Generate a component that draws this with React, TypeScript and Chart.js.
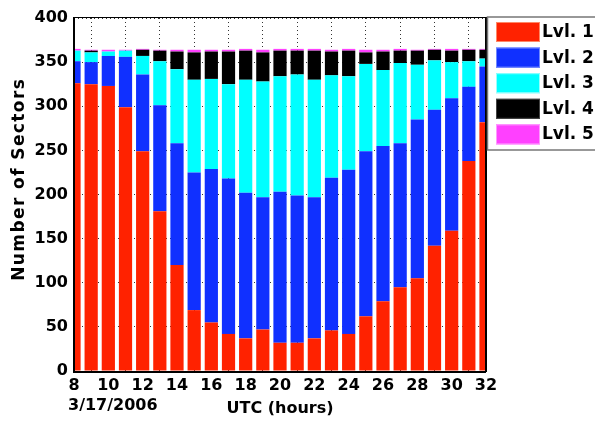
import React, { useEffect, useRef } from "react";
import { Chart, registerables } from "chart.js";

Chart.register(...registerables);

const hours = [8, 9, 10, 11, 12, 13, 14, 15, 16, 17, 18, 19, 20, 21, 22, 23, 24, 25, 26, 27, 28, 29, 30, 31, 32];
const lvl1 = [326, 325, 323, 299, 249, 181, 120, 69, 55, 42, 37, 47, 32, 32, 37, 46, 42, 62, 79, 95, 105, 142, 159, 238, 282];
const lvl2 = [25, 25, 34, 57, 87, 120, 138, 156, 174, 176, 165, 150, 171, 167, 160, 173, 186, 187, 176, 163, 180, 154, 150, 84, 63];
const lvl3 = [12, 11, 5, 7, 21, 50, 84, 105, 102, 107, 128, 131, 131, 137, 133, 116, 106, 99, 86, 91, 62, 56, 41, 29, 9];
const lvl4 = [0, 2, 0, 0, 7, 12, 20, 31, 31, 37, 33, 33, 29, 27, 33, 27, 29, 13, 21, 14, 16, 12, 13, 13, 10];
const lvl5 = [2, 1, 2, 1, 1, 1, 2, 3, 2, 2, 2, 3, 2, 2, 2, 2, 2, 3, 2, 2, 1, 1, 2, 1, 1];

const seriesLabels = ["Lvl. 1", "Lvl. 2", "Lvl. 3", "Lvl. 4", "Lvl. 5"];
const seriesColors = ["#ff2200", "#1030ff", "#00ffff", "#000000", "#ff40ff"];
const seriesEdge = ["#ff8866", "#7088ff", "#99ffff", "#444444", "#ff99ff"];
const seriesValues = [lvl1, lvl2, lvl3, lvl4, lvl5];

const yTitle = "Number of Sectors";
const xTitle = "UTC (hours)";
const dateLabel = "3/17/2006";

const FONT = "'DejaVu Sans', sans-serif";

const framePlugin = {
  id: "frame",
  afterDatasetsDraw(chart: any) {
    const { ctx, chartArea: a } = chart;
    ctx.save();
    ctx.strokeStyle = "#000";
    ctx.lineWidth = 1;
    ctx.beginPath();
    ctx.moveTo(a.left, a.top - 0.5);
    ctx.lineTo(a.right + 1, a.top - 0.5);
    ctx.stroke();
    ctx.lineWidth = 2;
    ctx.beginPath();
    ctx.moveTo(a.left, a.top - 1);
    ctx.lineTo(a.left, a.bottom + 1);
    ctx.lineTo(a.right, a.bottom + 1);
    ctx.moveTo(a.right, a.top - 1);
    ctx.lineTo(a.right, a.bottom + 1);
    ctx.stroke();
    ctx.restore();
  },
  afterDraw(chart: any) {
    const { ctx, chartArea: a } = chart;
    ctx.save();
    ctx.fillStyle = "#000";
    ctx.font = `bold 16px ${FONT}`;
    ctx.textAlign = "left";
    ctx.textBaseline = "middle";
    ctx.fillText(dateLabel, 68, 406);
    // y title
    ctx.save();
    ctx.translate(20, 180);
    ctx.rotate(-Math.PI / 2);
    ctx.font = `bold 17px ${FONT}`;
    ctx.textAlign = "center";
    ctx.textBaseline = "middle";
    (ctx as any).letterSpacing = "1.4px";
    ctx.fillText(yTitle, 0.7, 0);
    ctx.restore();
    // legend
    const lx = a.right + 1.5;
    ctx.fillStyle = "#fff";
    ctx.fillRect(lx, 17, 600 - lx, 133);
    ctx.strokeStyle = "#777";
    ctx.lineWidth = 1.5;
    ctx.strokeRect(lx, 17, 620 - lx, 133);
    chart.data.datasets.forEach((ds: any, i: number) => {
      const top = 22 + i * 25.6;
      ctx.fillStyle = ds.backgroundColor;
      ctx.fillRect(496, top, 44, 20);
      ctx.strokeStyle = seriesEdge[i];
      ctx.lineWidth = 1;
      ctx.strokeRect(496.5, top + 0.5, 43, 19);
      ctx.fillStyle = "#000";
      ctx.font = `bold 17px ${FONT}`;
      ctx.textAlign = "left";
      ctx.textBaseline = "middle";
      ctx.fillText(ds.label, 542, top + 10.5);
    });
    ctx.restore();
  },
};

export default function App() {
  const ref = useRef<HTMLCanvasElement>(null);
  useEffect(() => {
    if (!ref.current) return;
    const chart = new Chart(ref.current, {
      type: "bar",
      data: {
        datasets: seriesValues.map((vals, i) => ({
          label: seriesLabels[i],
          data: hours.map((h, j) => ({ x: h, y: vals[j] })),
          backgroundColor: seriesColors[i],
          borderWidth: 0,
          barPercentage: 0.77,
          categoryPercentage: 1,
          clip: 0,
        })),
      },
      options: {
        responsive: false,
        animation: false,
        layout: { padding: { left: 0, top: 18, right: 109, bottom: 0 } },
        plugins: { legend: { display: false }, tooltip: { enabled: false } },
        scales: {
          x: {
            type: "linear",
            stacked: true,
            min: 8,
            max: 32,
            offset: false,
            afterFit: (s: any) => { s.height = 50; },
            ticks: { stepSize: 2, color: "#000", font: { family: FONT, weight: "bold", size: 16 }, padding: 5, maxRotation: 0 },
            grid: { color: "#333", drawTicks: false, lineWidth: 1 },
            border: { display: false, dash: [1, 3] },
            title: { display: true, text: xTitle, color: "#000", font: { family: FONT, weight: "bold", size: 16 }, padding: { top: 0, bottom: 2.5 } },
          },
          y: {
            stacked: true,
            min: 0,
            max: 400,
            afterFit: (s: any) => { s.width = 74; },
            ticks: { stepSize: 50, color: "#000", font: { family: FONT, weight: "bold", size: 16 }, padding: 6 },
            grid: { color: "#333", drawTicks: false, lineWidth: 1 },
            border: { display: false, dash: [1, 3] },
            title: { display: false, text: yTitle },
          },
        },
      },
      plugins: [framePlugin],
    } as any);
    return () => chart.destroy();
  }, []);
  return (
    <div style={{ position: "fixed", left: 0, top: 0, width: 595, height: 421, background: "#fff" }}>
      <canvas ref={ref} width={595} height={421} />
    </div>
  );
}
